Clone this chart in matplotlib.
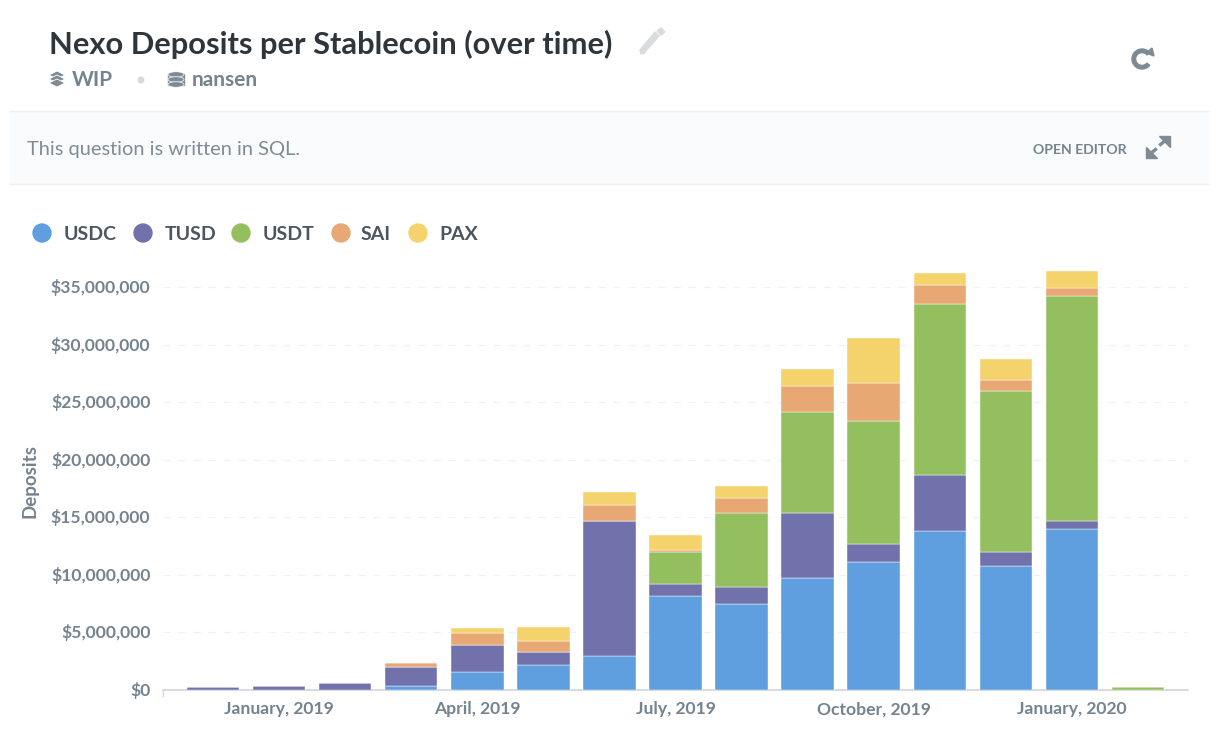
#!/usr/bin/env python3
"""Nexo deposits per stablecoin, stacked monthly bars inside a dashboard card."""

import numpy as np
import matplotlib
matplotlib.use('Agg')
import matplotlib.pyplot as plt
from matplotlib.patches import Circle, Ellipse, Polygon, Rectangle, Wedge
from matplotlib.transforms import ScaledTranslation

WIDTH, HEIGHT = 1220, 740

plt.rcParams['font.family'] = ['Lato', 'Open Sans', 'DejaVu Sans']

SERIES = ['USDC', 'TUSD', 'USDT', 'SAI', 'PAX']
COLORS = ['#5f9fdf', '#7172ab', '#94bf5f', '#e8a874', '#f4d36c']

# deposits in millions of dollars, one entry per month
usdc = [0, 0, 0, 0.35, 1.55, 2.15, 2.95, 8.15, 7.45, 9.75, 11.1, 13.8, 10.8, 13.95, 0]
tusd = [0.25, 0.35, 0.65, 1.65, 2.35, 1.15, 11.75, 1.05, 1.5, 5.6, 1.55, 4.85, 1.2, 0.75, 0]
usdt = [0, 0, 0, 0, 0, 0, 0, 2.75, 6.4, 8.8, 10.75, 14.85, 14.0, 19.55, 0.25]
sai = [0, 0, 0, 0.35, 1.05, 0.95, 1.35, 0.2, 1.3, 2.25, 3.3, 1.7, 0.95, 0.7, 0]
pax = [0, 0, 0, 0, 0.45, 1.25, 1.15, 1.3, 1.05, 1.5, 3.85, 1.0, 1.8, 1.45, 0]

y_ticks = [0, 5, 10, 15, 20, 25, 30, 35]
x_tick_pos = [1, 4, 7, 10, 13]
x_tick_labels = ['January, 2019', 'April, 2019', 'July, 2019', 'October, 2019', 'January, 2020']

TEXT_DARK = '#2e353b'
TEXT_GREY = '#74838f'
ICON_GREY = '#7f8b94'


def draw_page(ui):
    """Header, notice strip and icons, drawn in pixel coordinates"""
    ui.set_xlim(0, WIDTH)
    ui.set_ylim(HEIGHT, 0)
    ui.axis('off')

    ui.text(49, 44, 'Nexo Deposits per Stablecoin (over time)', fontsize=22.2,
            fontweight='bold', color=TEXT_DARK, va='center')
    ui.text(72, 80, 'WIP', fontsize=15, fontweight='bold', color=TEXT_GREY, va='center')
    ui.text(192, 80, 'nansen', fontsize=15, fontweight='bold', color=TEXT_GREY, va='center')
    ui.add_patch(Circle((141, 80), 2.8, color='#d5dadd'))

    # notice strip
    ui.add_patch(Rectangle((10, 111), 1199, 73, facecolor='#f9fbfc', edgecolor='none'))
    ui.plot([10, 1209], [111, 111], color='#eef0f2', lw=1)
    ui.plot([10, 1209], [184, 184], color='#eef0f2', lw=1)
    ui.text(27, 149.5, 'This question is written in SQL.', fontsize=14.45, color='#7f8c95', va='center')
    ui.text(1033, 149.5, 'OPEN EDITOR', fontsize=10.1, fontweight='bold', color=TEXT_GREY, va='center')

    # pencil
    ui.add_patch(Polygon([(640, 50), (644, 53), (659, 36), (655, 32)], color='#d8dcdf'))
    ui.add_patch(Polygon([(657, 31), (661, 35), (665, 32), (661, 28)], color='#d8dcdf'))
    ui.add_patch(Polygon([(640, 50), (641, 54), (645, 53)], color='#d8dcdf'))

    # layers icon next to WIP
    for top in (75, 79, 83):
        ui.add_patch(Polygon([(49, top), (57, top - 4), (65, top), (57, top + 4)],
                             facecolor=ICON_GREY, edgecolor='white', lw=0.6))

    # database icon next to nansen
    ui.add_patch(Rectangle((168, 74), 16, 11, color=ICON_GREY))
    for cy in (74.5, 79.5, 84.5):
        ui.add_patch(Ellipse((176, cy), 16, 5.5, facecolor=ICON_GREY, edgecolor='white', lw=0.5))

    # refresh
    ui.add_patch(Wedge((1142, 59), 10, 40, 320, width=3.6, color=ICON_GREY))
    ui.add_patch(Polygon([(1146, 53), (1154, 56), (1152, 48)], color=ICON_GREY))

    # expand arrows
    ui.plot([1150, 1155.5], [154, 149.5], color=ICON_GREY, lw=2.4)
    ui.plot([1160.5, 1166], [144.5, 140], color=ICON_GREY, lw=2.4)
    ui.add_patch(Polygon([(1146, 147), (1146, 158), (1157, 158)], color=ICON_GREY))
    ui.add_patch(Polygon([(1159, 136), (1170, 136), (1170, 147)], color=ICON_GREY))

    # legend
    legend_x = [42, 143, 241, 341, 418]
    legend_gap = [22, 22, 22, 20, 21]
    for name, color, x, gap in zip(SERIES, COLORS, legend_x, legend_gap):
        ui.add_patch(Ellipse((x, 233), 18, 18, color=color))
        ui.text(x + gap, 234.5, name, fontsize=14, fontweight='bold', color='#4c5560', va='center')


def draw_chart(fig, ax):
    """Stacked bars on their own axes"""
    months = np.arange(len(usdc))
    bottom = np.zeros(len(usdc))
    for values, color in zip([usdc, tusd, usdt, sai, pax], COLORS):
        ax.bar(months, values, width=0.795, bottom=bottom, color=color,
               edgecolor='white', linewidth=0.3, zorder=3)
        bottom += np.array(values)

    ax.set_xlim(-0.757, 14.757)
    ax.set_ylim(0, 38.0)
    ax.set_yticks(y_ticks)
    ax.set_yticklabels(['$0'] + [f'${v},000,000' for v in y_ticks[1:]])
    ax.set_xticks(x_tick_pos)
    ax.set_xticklabels(x_tick_labels)
    ax.tick_params(axis='both', length=0, labelsize=12.6, labelcolor=TEXT_GREY)
    ax.tick_params(axis='y', pad=9)
    ax.tick_params(axis='x', pad=8)
    for label in ax.get_xticklabels() + ax.get_yticklabels():
        label.set_fontweight('bold')

    # labels sit a pixel higher than matplotlib centres them
    nudge = ScaledTranslation(0, 1 / fig.dpi, fig.dpi_scale_trans)
    for label in ax.get_yticklabels():
        label.set_transform(label.get_transform() + nudge)

    ax.grid(axis='y', color='#eff1f2', linestyle=(0, (6, 6)), linewidth=0.9, zorder=0)
    ax.set_axisbelow(True)
    for side in ('top', 'right', 'left'):
        ax.spines[side].set_visible(False)
    ax.spines['bottom'].set_color('#d5d9dc')
    ax.spines['bottom'].set_linewidth(1.3)
    ax.plot([-0.757, -0.757], [0, -0.5], color='#d5d9dc', lw=1, clip_on=False)

    ax.set_ylabel('Deposits', fontsize=13.5, fontweight='bold', color=TEXT_GREY)
    ax.yaxis.set_label_coords(-0.1215, 0.4776)


def main():
    fig = plt.figure(figsize=(WIDTH / 100, HEIGHT / 100), dpi=100, facecolor='white')
    ui = fig.add_axes([0, 0, 1, 1])
    draw_page(ui)

    # plot area runs from x=163 to x=1188, baseline at y=690
    top_px = 690 - 38.0 * 403 / 35
    ax = fig.add_axes([163 / WIDTH, 1 - 690 / HEIGHT, 1025 / WIDTH, (690 - top_px) / HEIGHT])
    ax.patch.set_alpha(0)
    draw_chart(fig, ax)

    fig.savefig('out.png', dpi=100)
    plt.close(fig)


if __name__ == "__main__":
    main()
